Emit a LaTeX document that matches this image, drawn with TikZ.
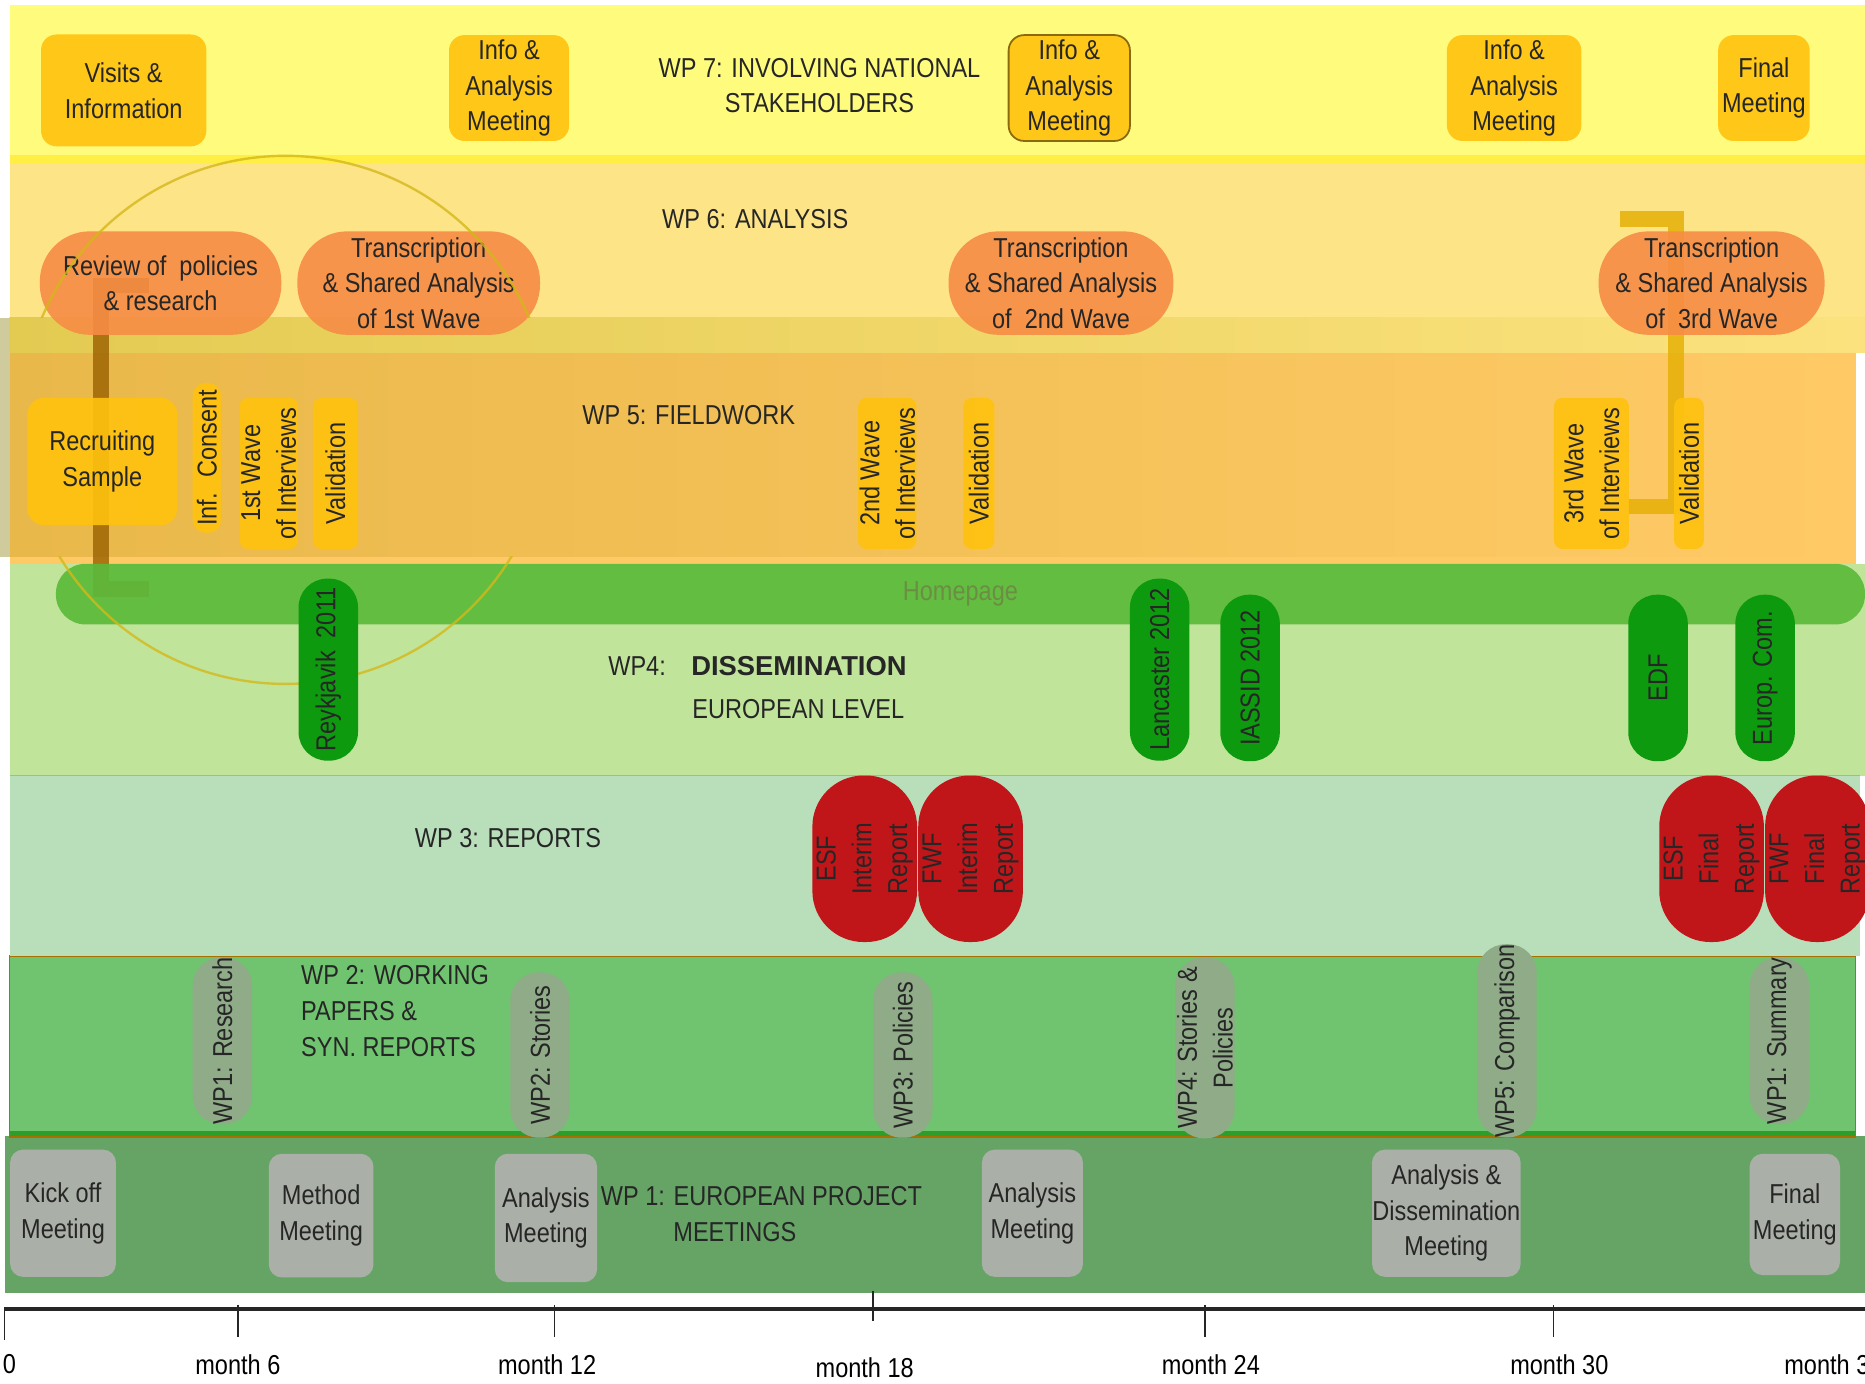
\documentclass[tikz,border=0pt]{standalone}
\usepackage{fontspec}
\setmainfont{Liberation Sans}[FakeStretch=0.86]
\newfontfamily\plainfont{Liberation Sans}
\usetikzlibrary{positioning}

\newcommand\wpfont{\fontsize{23}{30}\selectfont}

\definecolor{wpseven}{HTML}{FFFB7C}
\definecolor{wpstripe}{HTML}{FFEF45}
\definecolor{wpsix}{HTML}{FDE487}
\definecolor{wpfiveL}{HTML}{E9B84A}
\definecolor{wpfiveR}{HTML}{FFCA66}
\definecolor{overL}{HTML}{E3CB52}
\definecolor{overR}{HTML}{FCE27E}
\definecolor{khaki}{HTML}{CFCB9C}
\definecolor{wpfour}{HTML}{C1E49B}
\definecolor{wpfourline}{HTML}{8CC97A}
\definecolor{homebar}{HTML}{5CBA3A}
\definecolor{hometext}{HTML}{6B8E42}
\definecolor{wpthree}{HTML}{B8DEBA}
\definecolor{wptwo}{HTML}{70C470}
\definecolor{wptwoline}{HTML}{A87000}
\definecolor{wptwostripe}{HTML}{2E9E2A}
\definecolor{wpone}{HTML}{66A466}
\definecolor{amber}{HTML}{FFC20E}
\definecolor{amberline}{HTML}{8A6A10}
\definecolor{peach}{HTML}{F68C45}
\definecolor{confgreen}{HTML}{0E9A0E}
\definecolor{reportred}{HTML}{C0161A}
\definecolor{paperg}{HTML}{8FAB88}
\definecolor{meetg}{HTML}{AAB0A8}
\definecolor{ink}{HTML}{262626}
\definecolor{ringc}{HTML}{D4B81A}
\definecolor{bracketbrown}{HTML}{9A6000}
\definecolor{bracketgold}{HTML}{E3AE00}

\begin{document}
\begin{tikzpicture}[
    x=1pt, y=-1pt,
    amberbox/.style={rectangle, rounded corners=13pt, fill=amber, fill opacity=0.9, text opacity=1, text=ink, align=center, font=\wpfont, inner sep=0pt},
    vbox/.style={amberbox, rotate=90, rounded corners=7pt, minimum width=127pt},
    peachbox/.style={rectangle, rounded corners=42pt, fill=peach, fill opacity=0.9, text opacity=1, text=ink, align=center, font=\wpfont, inner sep=0pt, minimum height=87pt},
    confpill/.style={rectangle, rounded corners=24pt, fill=confgreen, text=ink, align=center, font=\wpfont, inner sep=0pt, rotate=90, minimum height=50pt},
    reportpill/.style={rectangle, rounded corners=43pt, fill=reportred, text=ink, align=center, font=\wpfont, inner sep=0pt, rotate=90, minimum width=140pt, minimum height=88pt},
    paperpill/.style={rectangle, rounded corners=24pt, fill=paperg, text=ink, align=center, font=\wpfont, inner sep=0pt, rotate=90, minimum height=50pt},
    meetbox/.style={rectangle, rounded corners=11pt, fill=meetg, text=ink, align=center, font=\wpfont, inner sep=0pt},
    title/.style={text=ink, font=\wpfont, inner sep=0pt, align=center},
    bracket/.style={line width=13pt, opacity=0.8},
    ring/.style={ringc, line width=2pt, opacity=0.8}
]
\useasboundingbox (0,0) rectangle (1568,1163);

% Bands
\fill[wpone] (4,955) rectangle (1568,1087);
\fill[wptwo] (8,804) rectangle (1560,956);
\fill[wptwostripe] (8,951) rectangle (1560,956);
\draw[wptwoline, line width=1.5pt] (8,804) rectangle (1560,956);
\fill[wpthree] (8,652) rectangle (1564,804);
\fill[wpfour] (8,474) rectangle (1568,652);
\draw[wpfourline, line width=1.5pt] (8,652) -- (1564,652);
\fill[wpsix] (8,137) rectangle (1568,296);
\fill[wpfiveR] (8,267) rectangle (1560,474);
\shade[left color=wpfiveL, right color=wpfiveR] (8,267) rectangle (1560,468);
\fill[khaki] (0,267) rectangle (8,468);
\shade[left color=overL, right color=overR] (8,267) rectangle (1568,296);
\fill[wpseven] (8,4) rectangle (1568,130);
\fill[wpstripe] (8,130) rectangle (1568,137);

% Brackets
\coordinate (revtab) at (125,240);
\coordinate (hometab) at (125,495);
\coordinate (trtab) at (1362,184);
\coordinate (valtab) at (1369,426);
\draw[bracket, bracketbrown] (revtab) -- ++(-40,0) |- (hometab);
\draw[bracket, bracketgold] (trtab) -- ++(47,0) |- (valtab);

% WP 6 nodes
\node[peachbox, minimum width=203pt] (review) at (135,238) {Review of~ policies\\\& research};
\node[peachbox, minimum width=204pt] (trans1) at (352,238) {Transcription\\\& Shared Analysis\\of 1st Wave};
\node[peachbox, minimum width=189pt] (trans2) at (892,238) {Transcription\\\& Shared Analysis\\of~ 2nd Wave};
\node[peachbox, minimum width=190pt] (trans3) at (1439,238) {Transcription\\\& Shared Analysis\\of~ 3rd Wave};

% Homepage bar
\node[rectangle, rounded corners=25pt, fill=homebar, fill opacity=0.92, text opacity=1, text=hometext, font=\wpfont, inner sep=0pt, minimum width=1521pt, minimum height=51pt] (homepage) at (807.5,499.5) {Homepage};

% Ring
\begin{scope}
  \clip (0,0) rectangle (1568,267);
  \draw[ring] (240,353) circle[radius=222];
\end{scope}
\begin{scope}
  \clip (0,468) rectangle (1568,1163);
  \draw[ring] (240,353) circle[radius=222];
\end{scope}

% WP 7 nodes
\node[amberbox, minimum width=139pt, minimum height=94pt] (visits) at (104,76) {Visits \&\\Information};
\node[amberbox, minimum width=101pt, minimum height=89pt] (info1) at (428,74) {Info \&\\Analysis\\Meeting};
\node[amberbox, draw=amberline, line width=1.5pt, minimum width=102pt, minimum height=89pt] (info2) at (899,74) {Info \&\\Analysis\\Meeting};
\node[amberbox, minimum width=113pt, minimum height=89pt] (info3) at (1273,74) {Info \&\\Analysis\\Meeting};
\node[amberbox, minimum width=77pt, minimum height=89pt] (final7) at (1483,74) {Final\\Meeting};

% WP 5 nodes
\node[amberbox, rounded corners=14pt, minimum width=126pt, minimum height=107pt] (recruit) at (86,388) {Recruiting\\Sample};
\node[vbox, rounded corners=11pt, minimum width=126pt, minimum height=24pt] (consent) at (174,385) {Inf.~ Consent};
\node[vbox, minimum height=49pt] (wave1) at (226,398) {1st Wave\\of Interviews};
\node[vbox, minimum height=38pt] (valid1) at (282,398) {Validation};
\node[vbox, minimum height=49pt] (wave2) at (746,398) {2nd Wave\\of Interviews};
\node[vbox, minimum height=26pt] (valid2) at (823,398) {Validation};
\node[vbox, minimum height=63pt] (wave3) at (1338,398) {3rd Wave\\of Interviews};
\node[vbox, minimum height=25pt] (valid3) at (1420,398) {Validation};

% WP 4 nodes
\node[confpill, minimum width=153pt] (reyk) at (276,563) {Reykjavik~ 2011};
\node[confpill, minimum width=153pt] (lanc) at (975,563) {Lancaster 2012};
\node[confpill, minimum width=140pt] (iassid) at (1051,570) {IASSID 2012};
\node[confpill, minimum width=140pt] (edf) at (1394,570) {EDF};
\node[confpill, minimum width=140pt] (europ) at (1484,570) {Europ. Com.};

% WP 3 nodes
\node[reportpill] (esfint) at (727,722) {ESF\\Interim\\Report};
\node[reportpill] (fwfint) at (816,722) {FWF\\Interim\\Report};
\node[reportpill] (esffin) at (1439,722) {ESF\\Final\\Report};
\node[reportpill] (fwffin) at (1528,722) {FWF\\Final\\Report};

% WP 2 nodes
\node[paperpill, minimum width=139pt] (paper1) at (187,875) {WP1: Research};
\node[paperpill, minimum width=139pt] (paper2) at (454,887) {WP2: Stories};
\node[paperpill, minimum width=139pt] (paper3) at (759,887) {WP3: Policies};
\node[paperpill, minimum width=152pt] (paper4) at (1013,881) {WP4: Stories \&\\Policies};
\node[paperpill, minimum width=139pt] (paper5) at (1267,875) {WP5: Comparison};
\node[paperpill, minimum width=139pt] (paper6) at (1496,875) {WP1: Summary};

% WP 1 nodes
\node[meetbox, minimum width=89pt, minimum height=107pt] (kickoff) at (53,1020) {Kick off\\Meeting};
\node[meetbox, minimum width=88pt, minimum height=104pt] (method) at (270,1022) {Method\\Meeting};
\node[meetbox, minimum width=86pt, minimum height=108pt] (anal1) at (459,1024) {Analysis\\Meeting};
\node[meetbox, minimum width=85pt, minimum height=107pt] (anal2) at (868,1020) {Analysis\\Meeting};
\node[meetbox, minimum width=125pt, minimum height=107pt] (dissem) at (1216,1020) {Analysis \&\\Dissemination\\Meeting};
\node[meetbox, minimum width=76pt, minimum height=102pt] (final1) at (1509,1021) {Final\\Meeting};

% Titles
\node[title] (wp7) at (689,72) {WP 7: INVOLVING NATIONAL\\STAKEHOLDERS};
\node[title] (wp6) at (635,184) {WP 6: ANALYSIS};
\node[title] (wp5) at (579,349) {WP 5: FIELDWORK};
\node[title, anchor=east] (wp4) at (560,560) {WP4:};
\node[title, anchor=west, font=\plainfont\wpfont\bfseries] (wp4dis) at (581,560) {DISSEMINATION};
\node[title, anchor=west] (wp4eu) at (582,596) {EUROPEAN LEVEL};
\node[title] (wp3) at (427,705) {WP 3: REPORTS};
\node[title, anchor=west, align=left] (wp2) at (253,850) {WP 2: WORKING\\PAPERS \&\\SYN. REPORTS};
\node[title, anchor=west, align=left] (wp1) at (505,1021) {WP 1: EUROPEAN PROJECT\\\hspace*{61pt}MEETINGS};

% Timeline
\draw[ink, line width=3.5pt] (4,1100.5) -- (1568,1100.5);
\foreach \tx/\ta/\tb in {4/1099/1127, 200/1097/1124, 466/1097/1124, 734/1085/1111, 1013/1097/1124, 1306/1097/1124}
  \draw[ink, line width=1.2pt] (\tx,\ta) -- (\tx,\tb);
\foreach \lx/\ly/\lab [count=\i] in {8/1147/0, 200/1147/month 6, 460/1147/month 12, 727/1150/month 18, 1018/1147/month 24, 1311/1147/month 30}
  \node[title, text=black] (tl\i) at (\lx,\ly) {\lab};
\node[title, text=black, anchor=west] (tl7) at (1500,1147) {month 36};

\end{tikzpicture}
\end{document}
